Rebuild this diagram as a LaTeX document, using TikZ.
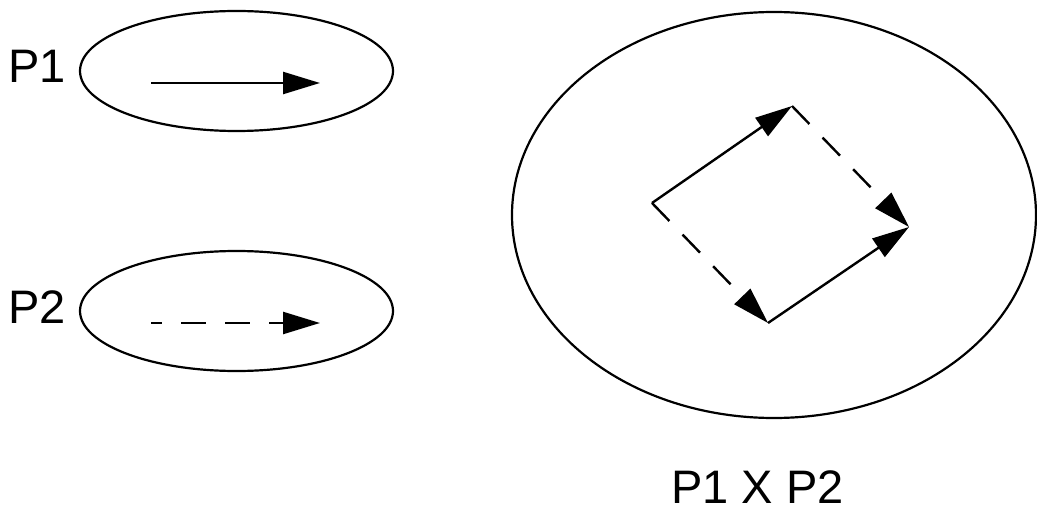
\documentclass[tikz,border=0pt]{standalone}
\usepackage{fontspec}
\setmainfont{Liberation Sans}
\usetikzlibrary{arrows.meta,shapes.geometric}
\begin{document}
\begin{tikzpicture}[x=1pt,y=-1pt,
  oval/.style={draw,ellipse,line width=2.2pt,inner sep=0pt},
  vec/.style={line width=2.4pt,-{Triangle[length=37pt,width=22pt]}},
  dvec/.style={vec,dash pattern=on 25pt off 19pt},
  lbl/.style={font=\fontsize{47}{56}\selectfont,inner sep=0pt}]
\useasboundingbox (0,0) rectangle (1037,508);
\node[oval,minimum width=313pt,minimum height=120pt] (e1) at (236.5,71) {};
\node[oval,minimum width=313pt,minimum height=120pt] (e2) at (236.5,311) {};
\node[oval,minimum width=524pt,minimum height=406pt] (e3) at (774,215) {};
\node[lbl,anchor=base west] (t1) at (8,83) {P1};
\node[lbl,anchor=base west] (t2) at (8,323) {P2};
\node[lbl,anchor=base west] (t3) at (671,503) {P1 X P2};
\coordinate (a1) at (151,83);
\coordinate (b1) at (320,83);
\coordinate (a2) at (151,323);
\coordinate (b2) at (320,323);
\coordinate (A) at (652,203);
\coordinate (B) at (792,106);
\coordinate (C) at (909,227);
\coordinate (D) at (768,323);
\draw[vec] (a1) -- (b1);
\draw[dvec,dash phase=14pt] (a2) -- (b2);
\draw[vec] (A) -- (B);
\draw[vec] (D) -- (C);
\draw[dvec] (B) -- (C);
\draw[dvec] (A) -- (D);
\end{tikzpicture}
\end{document}
